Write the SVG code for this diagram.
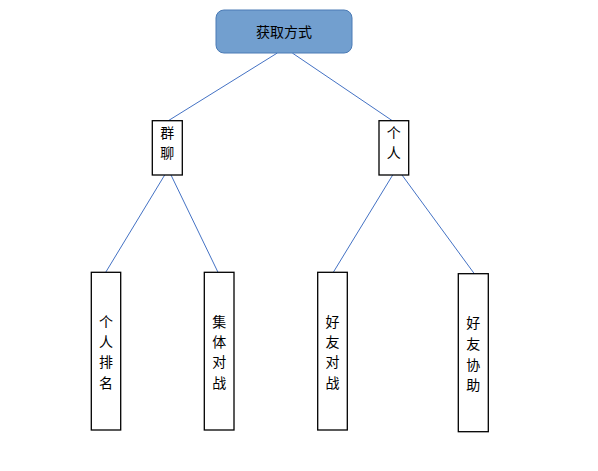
<svg xmlns="http://www.w3.org/2000/svg" width="598" height="471" viewBox="0 0 598 471">
<style>
.t{font-family:"Noto Sans CJK SC","Noto Sans",sans-serif;font-size:14px;fill:#000;text-anchor:middle}
.b{fill:#fff;stroke:#000;stroke-width:1.3}
.c{stroke:#4472c4;stroke-width:1;fill:none}
</style>
<rect width="598" height="471" fill="#fff"/>
<g id="connectors">
<line class="c" x1="277.3" y1="53" x2="168.3" y2="120.7"/>
<line class="c" x1="292.3" y1="53" x2="392.3" y2="120.7"/>
<line class="c" x1="164.7" y1="175" x2="105.7" y2="272.3"/>
<line class="c" x1="171" y1="175" x2="218" y2="272.3"/>
<line class="c" x1="392.7" y1="175" x2="333.3" y2="272.3"/>
<line class="c" x1="402" y1="175" x2="474.3" y2="273.7"/>
</g>
<g id="root">
<rect x="216" y="10" width="136" height="43" rx="8" fill="#729fcf" stroke="#4a7ab5" stroke-width="1"/>
<text class="t" x="284" y="37">获取方式</text>
</g>
<g id="group-chat">
<rect class="b" x="152.3" y="120.7" width="30" height="54.3"/>
<text class="t" x="167.3" y="138">群</text>
<text class="t" x="167.3" y="158">聊</text>
</g>
<g id="personal">
<rect class="b" x="379" y="120.7" width="29.7" height="54.3"/>
<text class="t" x="393.8" y="138">个</text>
<text class="t" x="393.8" y="158">人</text>
</g>
<g id="rank">
<rect class="b" x="91.3" y="272.3" width="29.4" height="157.7"/>
<text class="t" x="106" y="326.7">个</text>
<text class="t" x="106" y="346.7">人</text>
<text class="t" x="106" y="367.3">排</text>
<text class="t" x="106" y="387.7">名</text>
</g>
<g id="team-battle">
<rect class="b" x="204.3" y="272.3" width="29.7" height="157.7"/>
<text class="t" x="219.2" y="326.7">集</text>
<text class="t" x="219.2" y="346.7">体</text>
<text class="t" x="219.2" y="367.3">对</text>
<text class="t" x="219.2" y="387.7">战</text>
</g>
<g id="friend-battle">
<rect class="b" x="317.7" y="272.3" width="29.6" height="157.7"/>
<text class="t" x="332.5" y="326.7">好</text>
<text class="t" x="332.5" y="346.7">友</text>
<text class="t" x="332.5" y="367.3">对</text>
<text class="t" x="332.5" y="387.7">战</text>
</g>
<g id="friend-assist">
<rect class="b" x="458.3" y="273.7" width="30" height="158"/>
<text class="t" x="473.3" y="328">好</text>
<text class="t" x="473.3" y="348.5">友</text>
<text class="t" x="473.3" y="369.5">协</text>
<text class="t" x="473.3" y="390">助</text>
</g>
</svg>
